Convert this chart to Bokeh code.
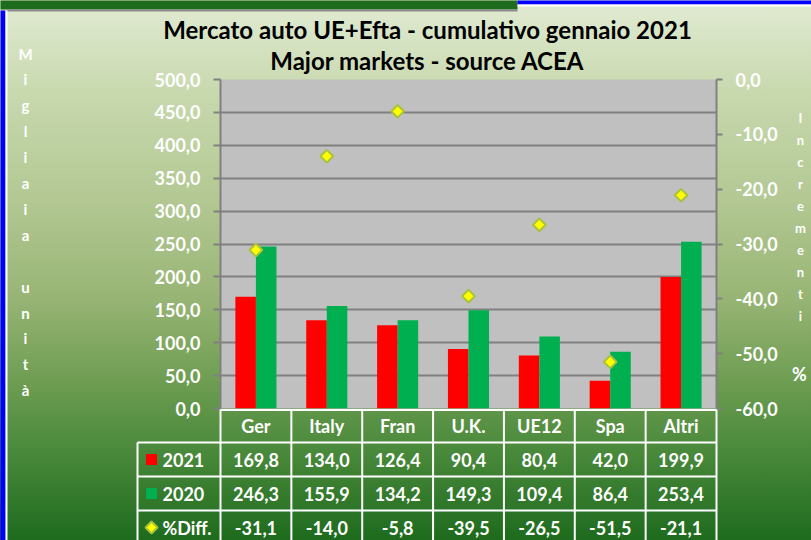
import numpy as np
from bokeh.plotting import figure
from bokeh.models import Range1d, LinearAxis, FixedTicker
from bokeh.core.properties import value
from bokeh.transform import dodge
from bokeh.embed import file_html
from bokeh.resources import INLINE

# ---------------- data ----------------
categories = ["Ger", "Italy", "Fran", "U.K.", "UE12", "Spa", "Altri"]
sales_2021 = [169.8, 134.0, 126.4, 90.4, 80.4, 42.0, 199.9]
sales_2020 = [246.3, 155.9, 134.2, 149.3, 109.4, 86.4, 253.4]
pct_diff = [-31.1, -14.0, -5.8, -39.5, -26.5, -51.5, -21.1]
series_names = ["2021", "2020", "%Diff."]
left_ticks = [0, 50, 100, 150, 200, 250, 300, 350, 400, 450, 500]
left_tick_labels = ["0,0", "50,0", "100,0", "150,0", "200,0", "250,0", "300,0",
                    "350,0", "400,0", "450,0", "500,0"]
right_ticks = [-60, -50, -40, -30, -20, -10, 0]
right_tick_labels = ["-60,0", "-50,0", "-40,0", "-30,0", "-20,0", "-10,0", "0,0"]
title_lines = ["Mercato auto UE+Efta - cumulativo gennaio 2021",
               "Major markets - source ACEA"]
left_axis_title = "Migliaia unità"
right_axis_title = "Incrementi"
right_axis_unit = "%"

def fmt(v):
    return f"{v:.1f}".replace(".", ",")

# ---------------- layout (window pixels) ----------------
W, H = 811, 540
FL, FR, FT, FB = 220, 716, 79, 408

FONT = "Lato"
WHITE = "white"
GRID = "#808080"
RED = "#ff0000"
GREEN = "#00b050"
YEL = "#ffff00"
YEL_EDGE = "#a8c23c"

p = figure(width=W, height=H, output_backend="svg", toolbar_location=None,
           x_range=Range1d(0, len(categories)), y_range=Range1d(0, 500),
           min_border_left=FL, min_border_right=W - FR,
           min_border_top=FT, min_border_bottom=H - FB)
p.extra_y_ranges = {"pct": Range1d(-60, 0), "px": Range1d(FB, FT)}
p.extra_x_ranges = {"px": Range1d(FL, FR)}

p.styles = {"background-image":
            "linear-gradient(180deg, #dfe9d0 0%, #dde8cd 3%, #c8d9ae 17%, #b3c893 37%, "
            "#98b575 55%, #6a9b4f 72%, #4b8a3c 83%, #1e6b1e 100%)"}
p.border_fill_color = None
p.background_fill_color = "#c0c0c0"
p.outline_line_color = None

p.xaxis.visible = False
p.xgrid.visible = False
p.ygrid.ticker = FixedTicker(ticks=left_ticks)
p.ygrid.grid_line_color = GRID
p.ygrid.grid_line_width = 2

def style_axis(ax):
    ax.axis_line_color = GRID
    ax.axis_line_width = 2
    ax.major_tick_line_color = GRID
    ax.major_tick_line_width = 2
    ax.major_tick_out = 7
    ax.major_tick_in = 0
    ax.minor_tick_line_color = None
    ax.major_label_text_color = WHITE
    ax.major_label_text_font = FONT
    ax.major_label_text_font_style = "bold"
    ax.major_label_text_font_size = "18px"
    ax.major_label_standoff = 13

yl = p.yaxis[0]
yl.ticker = FixedTicker(ticks=left_ticks)
yl.major_label_overrides = dict(zip(left_ticks, left_tick_labels))
style_axis(yl)

yr = LinearAxis(y_range_name="pct", ticker=FixedTicker(ticks=right_ticks))
yr.major_label_overrides = dict(zip(right_ticks, right_tick_labels))
style_axis(yr)
yr.major_tick_out = 6
p.add_layout(yr, "right")

# ---------------- frame decorations (page edges) ----------------
p.quad(left=[0, 6, 517, 517, 0, 5], right=[517, 517, 811, 811, 5, 7],
       top=[0, 9, 0, 4, 10, 10], bottom=[9, 11, 4, 6, 540, 540],
       fill_color=["#1d6b1d", "#8c8c8c", "#0000ff", "#ffffff", "#0000ff", "#ffffff"],
       line_color=None, x_range_name="px", y_range_name="px", level="overlay")

# ---------------- bars & markers ----------------
xc = [i + 0.5 for i in range(len(categories))]
src = dict(x=xc, y21=sales_2021, y20=sales_2020, d=pct_diff)
p.vbar(x=dodge("x", -0.145), top="y21", width=0.29, source=src,
       fill_color=RED, line_color=None)
p.vbar(x=dodge("x", 0.145), top="y20", width=0.29, source=src,
       fill_color=GREEN, line_color=None)
p.scatter(x="x", y="d", source=src, y_range_name="pct", marker="square",
          angle=np.pi / 4, size=9, fill_color=YEL,
          line_color=YEL_EDGE, line_width=2)

# ---------------- data table ----------------
row_edges = [FB, 442, 476, 510, 544]
row_mid = [(row_edges[i] + row_edges[i + 1]) / 2 for i in range(4)]
TL = 137

tkw = dict(text_color=WHITE, text_font=value(FONT), text_font_style="bold",
           text_font_size="18px", text_baseline="middle", level="overlay")

p.segment(x0=[TL] * 3, x1=[FR] * 3, y0=row_edges[1:4], y1=row_edges[1:4],
          x_range_name="px", y_range_name="px", line_color=WHITE,
          line_width=2, level="overlay")
p.segment(x0=[FL], x1=[FR], y0=[FB + 1.5], y1=[FB + 1.5],
          x_range_name="px", y_range_name="px", line_color=WHITE,
          line_width=2, level="overlay")
nb = len(categories) + 1
p.segment(x0=list(range(nb)), x1=list(range(nb)),
          y0=[FB + 1] * nb, y1=[545] * nb,
          y_range_name="px", line_color=WHITE, line_width=2, level="overlay")
p.segment(x0=[TL], x1=[TL], y0=[row_edges[1]], y1=[545],
          x_range_name="px", y_range_name="px", line_color=WHITE,
          line_width=2, level="overlay")

p.text(x=xc, y=[row_mid[0]] * len(xc), text=categories, y_range_name="px",
       text_align="center", **tkw)
for r, vals in enumerate([sales_2021, sales_2020, pct_diff], start=1):
    p.text(x=xc, y=[row_mid[r]] * len(xc), text=[fmt(v) for v in vals],
           y_range_name="px", text_align="center", **tkw)

p.text(x=[162] * 3, y=row_mid[1:4], text=series_names, x_range_name="px",
       y_range_name="px", text_align="left", **tkw)

# legend keys inside the table (drawn as quads / patch so they are not culled)
KX, KS = 151, 5.5
p.quad(left=[KX - KS] * 2, right=[KX + KS] * 2,
       top=[row_mid[1] - KS, row_mid[2] - KS],
       bottom=[row_mid[1] + KS, row_mid[2] + KS],
       fill_color=[RED, GREEN], line_color=None,
       x_range_name="px", y_range_name="px", level="overlay")
KD = 6
cy = row_mid[3]
p.patch(x=[KX, KX + KD, KX, KX - KD], y=[cy - KD, cy, cy + KD, cy],
        fill_color=YEL, line_color=YEL_EDGE, line_width=2,
        x_range_name="px", y_range_name="px", level="overlay")

# ---------------- titles ----------------
p.text(x=[427, 427], y=[29, 60], text=title_lines, x_range_name="px",
       y_range_name="px", text_align="center", text_baseline="middle",
       text_color="black", text_font=value(FONT), text_font_style="bold",
       text_font_size="24px", level="overlay")

la = list(left_axis_title)
p.text(x=[25] * len(la), y=[53 + 25.9 * i for i in range(len(la))], text=la,
       x_range_name="px", y_range_name="px", text_align="center",
       text_baseline="middle", text_color=WHITE, text_font=value(FONT),
       text_font_style="bold", text_font_size="15px", level="overlay")
ra = list(right_axis_title)
p.text(x=[800] * len(ra), y=[117 + 22 * i for i in range(len(ra))], text=ra,
       x_range_name="px", y_range_name="px", text_align="center",
       text_baseline="middle", text_color=WHITE, text_font=value(FONT),
       text_font_style="bold", text_font_size="13px", level="overlay")
p.text(x=[799], y=[373], text=[right_axis_unit], x_range_name="px",
       y_range_name="px", text_align="center", text_baseline="middle",
       text_color=WHITE, text_font=value(FONT), text_font_style="bold",
       text_font_size="18px", level="overlay")

open("out.html", "w").write(file_html(p, INLINE))
